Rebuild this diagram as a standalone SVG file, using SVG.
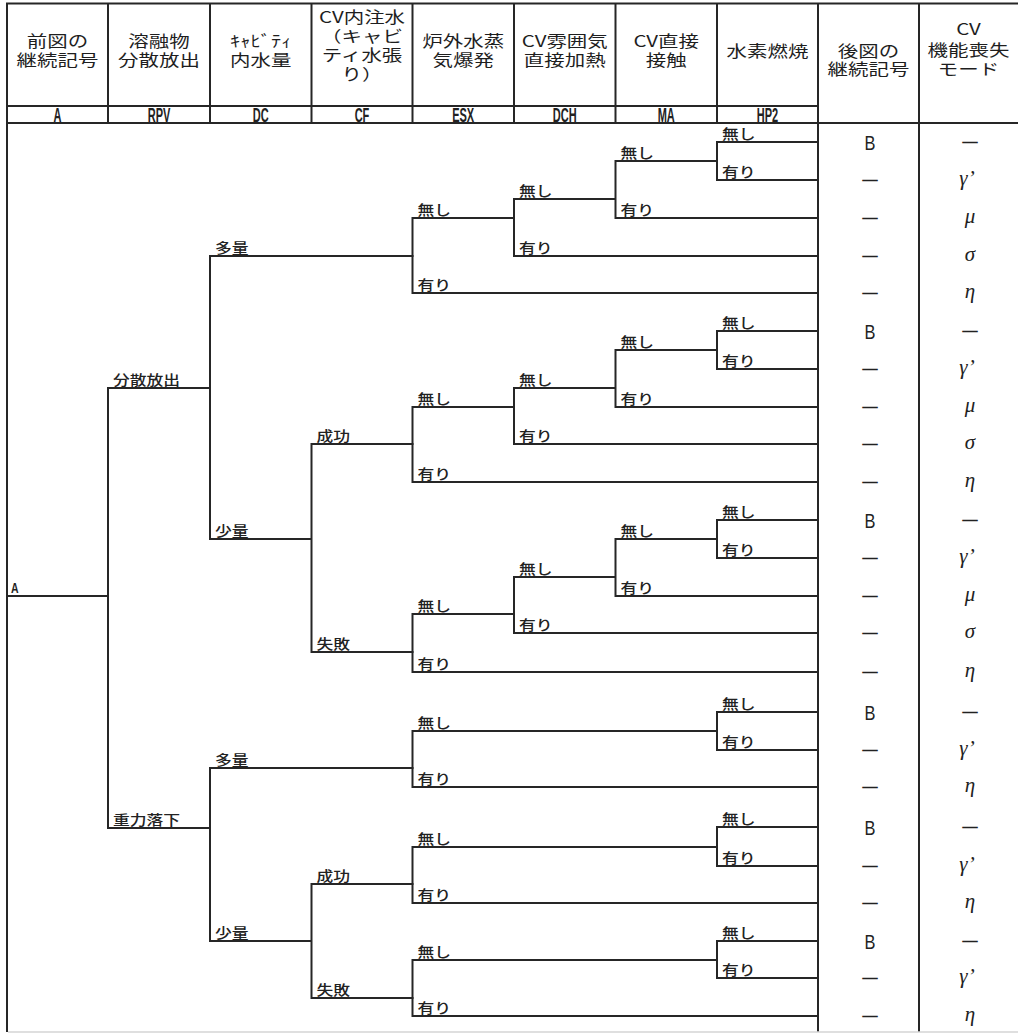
<svg xmlns="http://www.w3.org/2000/svg" width="1018" height="1034" viewBox="0 0 1018 1034">
<style>
.grid{stroke:#262626;stroke-width:2;fill:none;stroke-linecap:square}
.faint{stroke:#d4d4d4;stroke-width:1.5;fill:none}
.tree{stroke:#262626;stroke-width:2;fill:none;stroke-linecap:square}
.hd{font-family:"Noto Sans CJK JP","Noto Sans CJK SC",sans-serif;font-size:15.5px;fill:#1e1e1e;text-anchor:middle}
.code{font-family:"Liberation Sans","DejaVu Sans",sans-serif;font-weight:bold;font-size:20px;fill:#222;text-anchor:middle}
.lab{font-family:"Noto Sans CJK JP","Noto Sans CJK SC",sans-serif;font-size:14px;font-weight:500;fill:#222}
.lat{font-family:"Liberation Sans","DejaVu Sans",sans-serif;font-weight:bold;font-size:15px;fill:#222}
.res{font-family:"Liberation Sans","DejaVu Sans",sans-serif;font-size:20px;fill:#222;text-anchor:middle}
.dash{font-family:"Liberation Sans","DejaVu Sans",sans-serif;font-weight:bold;font-size:15.5px;fill:#222;text-anchor:middle}
.gr{font-family:"Liberation Serif","DejaVu Serif",serif;font-style:italic;font-size:21px;fill:#222;text-anchor:middle}
</style>
<rect width="1018" height="1034" fill="#fff"/>
<g id="table">
<path class="grid" d="M7 3.5H1018 M7 106H818 M7 123H1018 M7 3.5V1031 M108 3.5V123 M210 3.5V123 M311.5 3.5V123 M412.5 3.5V123 M514 3.5V123 M615.5 3.5V123 M717 3.5V123 M818 3.5V1031 M919 3.5V1031"/>
<path class="faint" d="M8 1032H1018"/>
</g>
<g id="header">
<g id="h-prev"><text class="hd" transform="translate(57.5 47) scale(1.32 1)"><tspan x="0" y="0">前図の</tspan><tspan x="0" dy="19">継続記号</tspan></text><text class="code" transform="translate(57.5 121.5) scale(0.55 1)">A</text></g>
<g id="h-rpv"><text class="hd" transform="translate(159 47) scale(1.32 1)"><tspan x="0" y="0">溶融物</tspan><tspan x="0" dy="19">分散放出</tspan></text><text class="code" transform="translate(159 121.5) scale(0.55 1)">RPV</text></g>
<g id="h-dc"><text class="hd" transform="translate(260.7 47) scale(1.32 1)"><tspan x="0" y="0">ｷｬﾋﾞﾃｨ</tspan><tspan x="0" dy="19">内水量</tspan></text><text class="code" transform="translate(260.7 121.5) scale(0.55 1)">DC</text></g>
<g id="h-cf"><text class="hd" transform="translate(362 23) scale(1.32 1)"><tspan x="0" y="0">CV内注水</tspan><tspan x="0" dy="19">（キャビ</tspan><tspan x="0" dy="19">ティ水張</tspan><tspan x="0" dy="19">り）</tspan></text><text class="code" transform="translate(362 121.5) scale(0.55 1)">CF</text></g>
<g id="h-esx"><text class="hd" transform="translate(463.2 47) scale(1.32 1)"><tspan x="0" y="0">炉外水蒸</tspan><tspan x="0" dy="19">気爆発</tspan></text><text class="code" transform="translate(463.2 121.5) scale(0.55 1)">ESX</text></g>
<g id="h-dch"><text class="hd" transform="translate(564.7 47) scale(1.32 1)"><tspan x="0" y="0">CV雰囲気</tspan><tspan x="0" dy="19">直接加熱</tspan></text><text class="code" transform="translate(564.7 121.5) scale(0.55 1)">DCH</text></g>
<g id="h-ma"><text class="hd" transform="translate(666.2 47) scale(1.32 1)"><tspan x="0" y="0">CV直接</tspan><tspan x="0" dy="19">接触</tspan></text><text class="code" transform="translate(666.2 121.5) scale(0.55 1)">MA</text></g>
<g id="h-hp2"><text class="hd" transform="translate(767.5 57) scale(1.32 1)">水素燃焼</text><text class="code" transform="translate(767.5 121.5) scale(0.55 1)">HP2</text></g>
<g id="h-next"><text class="hd" transform="translate(868.5 56.5) scale(1.32 1)"><tspan x="0" y="0">後図の</tspan><tspan x="0" dy="19">継続記号</tspan></text></g>
<g id="h-mode"><text class="hd" transform="translate(968.5 35) scale(1.32 1)"><tspan x="0" y="0">CV</tspan><tspan x="0" dy="21">機能喪失</tspan><tspan x="0" dy="19">モード</tspan></text></g>
</g>
<g id="connectors">
<path class="tree" d="M7 596H108 M108 388V828 M108 388H210 M108 828H210 M210 256V539 M210 256H412.5 M210 539H311.5 M311.5 444V652 M311.5 444H412.5 M311.5 652H412.5 M210 768V941 M210 768H412.5 M210 941H311.5 M311.5 884V998 M311.5 884H412.5 M311.5 998H412.5"/>
<path class="tree" d="M412.5 218V293 M412.5 218H514 M412.5 293H818 M514 199V256 M514 199H615.5 M514 256H818 M615.5 161V218 M615.5 161H717 M615.5 218H818 M717 142V180 M717 142H818 M717 180H818"/>
<path class="tree" d="M412.5 407V482 M412.5 407H514 M412.5 482H818 M514 388V444 M514 388H615.5 M514 444H818 M615.5 350V407 M615.5 350H717 M615.5 407H818 M717 331V369 M717 331H818 M717 369H818"/>
<path class="tree" d="M412.5 614V672 M412.5 614H514 M412.5 672H818 M514 577V633 M514 577H615.5 M514 633H818 M615.5 539V596 M615.5 539H717 M615.5 596H818 M717 520V558 M717 520H818 M717 558H818"/>
<path class="tree" d="M412.5 731V787 M412.5 731H717 M412.5 787H818 M717 712V750 M717 712H818 M717 750H818"/>
<path class="tree" d="M412.5 847V903 M412.5 847H717 M412.5 903H818 M717 827V866 M717 827H818 M717 866H818"/>
<path class="tree" d="M412.5 960V1016 M412.5 960H717 M412.5 1016H818 M717 941V978 M717 941H818 M717 978H818"/>
</g>
<g id="branch-labels">
<g id="n-a"><text class="lat" transform="translate(11 593) scale(0.7 1)">A</text></g>
<g id="n-rpv"><text class="lab" transform="translate(113 385) scale(1.2 1)">分散放出</text><text class="lab" transform="translate(113 825) scale(1.2 1)">重力落下</text></g>
<g id="n-dc"><text class="lab" transform="translate(215 253) scale(1.2 1)">多量</text><text class="lab" transform="translate(215 536) scale(1.2 1)">少量</text><text class="lab" transform="translate(215 765) scale(1.2 1)">多量</text><text class="lab" transform="translate(215 938) scale(1.2 1)">少量</text></g>
<g id="n-cf"><text class="lab" transform="translate(316.5 441) scale(1.2 1)">成功</text><text class="lab" transform="translate(316.5 649) scale(1.2 1)">失敗</text><text class="lab" transform="translate(316.5 881) scale(1.2 1)">成功</text><text class="lab" transform="translate(316.5 995) scale(1.2 1)">失敗</text></g>
<g id="n-esx">
<text class="lab" transform="translate(417.5 215) scale(1.2 1)">無し</text><text class="lab" transform="translate(417.5 290) scale(1.2 1)">有り</text>
<text class="lab" transform="translate(417.5 404) scale(1.2 1)">無し</text><text class="lab" transform="translate(417.5 479) scale(1.2 1)">有り</text>
<text class="lab" transform="translate(417.5 611) scale(1.2 1)">無し</text><text class="lab" transform="translate(417.5 669) scale(1.2 1)">有り</text>
<text class="lab" transform="translate(417.5 728) scale(1.2 1)">無し</text><text class="lab" transform="translate(417.5 784) scale(1.2 1)">有り</text>
<text class="lab" transform="translate(417.5 844) scale(1.2 1)">無し</text><text class="lab" transform="translate(417.5 900) scale(1.2 1)">有り</text>
<text class="lab" transform="translate(417.5 957) scale(1.2 1)">無し</text><text class="lab" transform="translate(417.5 1013) scale(1.2 1)">有り</text>
</g>
<g id="n-dch">
<text class="lab" transform="translate(519 196) scale(1.2 1)">無し</text><text class="lab" transform="translate(519 253) scale(1.2 1)">有り</text>
<text class="lab" transform="translate(519 385) scale(1.2 1)">無し</text><text class="lab" transform="translate(519 441) scale(1.2 1)">有り</text>
<text class="lab" transform="translate(519 574) scale(1.2 1)">無し</text><text class="lab" transform="translate(519 630) scale(1.2 1)">有り</text>
</g>
<g id="n-ma">
<text class="lab" transform="translate(620.5 158) scale(1.2 1)">無し</text><text class="lab" transform="translate(620.5 215) scale(1.2 1)">有り</text>
<text class="lab" transform="translate(620.5 347) scale(1.2 1)">無し</text><text class="lab" transform="translate(620.5 404) scale(1.2 1)">有り</text>
<text class="lab" transform="translate(620.5 536) scale(1.2 1)">無し</text><text class="lab" transform="translate(620.5 593) scale(1.2 1)">有り</text>
</g>
<g id="n-hp2">
<text class="lab" transform="translate(722 139) scale(1.2 1)">無し</text><text class="lab" transform="translate(722 177) scale(1.2 1)">有り</text>
<text class="lab" transform="translate(722 328) scale(1.2 1)">無し</text><text class="lab" transform="translate(722 366) scale(1.2 1)">有り</text>
<text class="lab" transform="translate(722 517) scale(1.2 1)">無し</text><text class="lab" transform="translate(722 555) scale(1.2 1)">有り</text>
<text class="lab" transform="translate(722 709) scale(1.2 1)">無し</text><text class="lab" transform="translate(722 747) scale(1.2 1)">有り</text>
<text class="lab" transform="translate(722 824) scale(1.2 1)">無し</text><text class="lab" transform="translate(722 863) scale(1.2 1)">有り</text>
<text class="lab" transform="translate(722 938) scale(1.2 1)">無し</text><text class="lab" transform="translate(722 975) scale(1.2 1)">有り</text>
</g>
</g>
<g id="next-codes">
<text class="res" transform="translate(870 149.5) scale(0.82 1)">B</text>
<text class="dash" x="870" y="184.5">—</text>
<text class="dash" x="870" y="222.5">—</text>
<text class="dash" x="870" y="260.5">—</text>
<text class="dash" x="870" y="297.5">—</text>
<text class="res" transform="translate(870 338.5) scale(0.82 1)">B</text>
<text class="dash" x="870" y="373.5">—</text>
<text class="dash" x="870" y="411.5">—</text>
<text class="dash" x="870" y="448.5">—</text>
<text class="dash" x="870" y="486.5">—</text>
<text class="res" transform="translate(870 527.5) scale(0.82 1)">B</text>
<text class="dash" x="870" y="562.5">—</text>
<text class="dash" x="870" y="600.5">—</text>
<text class="dash" x="870" y="637.5">—</text>
<text class="dash" x="870" y="676.5">—</text>
<text class="res" transform="translate(870 719.5) scale(0.82 1)">B</text>
<text class="dash" x="870" y="754.5">—</text>
<text class="dash" x="870" y="791.5">—</text>
<text class="res" transform="translate(870 834.5) scale(0.82 1)">B</text>
<text class="dash" x="870" y="870.5">—</text>
<text class="dash" x="870" y="907.5">—</text>
<text class="res" transform="translate(870 948.5) scale(0.82 1)">B</text>
<text class="dash" x="870" y="982.5">—</text>
<text class="dash" x="870" y="1020.5">—</text>
</g>
<g id="modes">
<text class="dash" x="970" y="146.5">—</text>
<text class="gr" x="967" y="185">γ’</text>
<text class="gr" x="970" y="223">μ</text>
<text class="gr" x="970" y="261">σ</text>
<text class="gr" x="970" y="298">η</text>
<text class="dash" x="970" y="335.5">—</text>
<text class="gr" x="967" y="374">γ’</text>
<text class="gr" x="970" y="412">μ</text>
<text class="gr" x="970" y="449">σ</text>
<text class="gr" x="970" y="487">η</text>
<text class="dash" x="970" y="524.5">—</text>
<text class="gr" x="967" y="563">γ’</text>
<text class="gr" x="970" y="601">μ</text>
<text class="gr" x="970" y="638">σ</text>
<text class="gr" x="970" y="677">η</text>
<text class="dash" x="970" y="716.5">—</text>
<text class="gr" x="967" y="755">γ’</text>
<text class="gr" x="970" y="792">η</text>
<text class="dash" x="970" y="831.5">—</text>
<text class="gr" x="967" y="871">γ’</text>
<text class="gr" x="970" y="908">η</text>
<text class="dash" x="970" y="945.5">—</text>
<text class="gr" x="967" y="983">γ’</text>
<text class="gr" x="970" y="1021">η</text>
</g>
</svg>
